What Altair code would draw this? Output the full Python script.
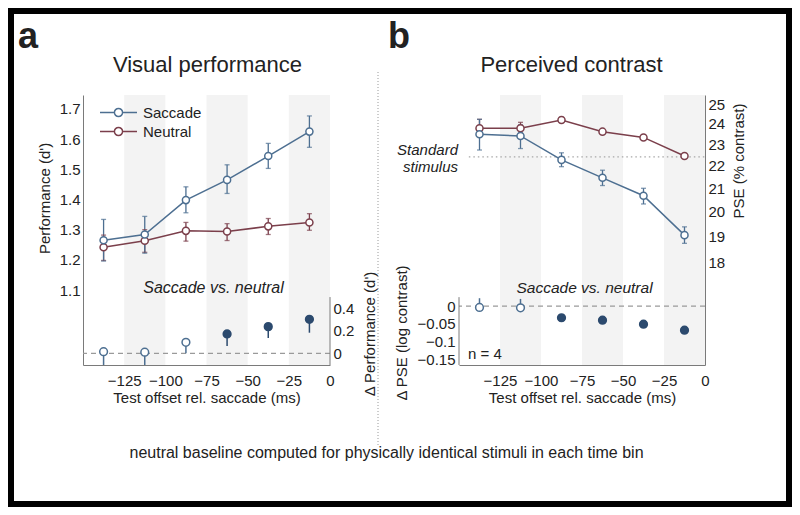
import altair as alt
import pandas as pd

# ---------------- data ----------------
offsets = [-137.5, -112.5, -87.5, -62.5, -37.5, -12.5]
band_start = [-125, -75, -25]
band_end = [-100, -50, 0]
series_names = ["Saccade", "Neutral"]
x_ticks = [-125, -100, -75, -50, -25, 0]

# panel a, upper: performance (d')
perf_saccade = [1.265, 1.284, 1.398, 1.465, 1.544, 1.625]
perf_saccade_lo = [1.196, 1.222, 1.356, 1.420, 1.503, 1.573]
perf_saccade_hi = [1.334, 1.344, 1.442, 1.515, 1.586, 1.677]
perf_neutral = [1.242, 1.263, 1.296, 1.294, 1.311, 1.324]
perf_neutral_lo = [1.198, 1.225, 1.262, 1.264, 1.284, 1.298]
perf_neutral_hi = [1.282, 1.300, 1.324, 1.320, 1.337, 1.353]

# panel a, lower: delta performance
delta_perf = [0.014, 0.010, 0.098, 0.172, 0.237, 0.302]
delta_perf_lo = [-0.104, -0.104, 0.000, 0.065, 0.136, 0.183]
signif_a = ["no", "no", "no", "yes", "yes", "yes"]

# panel b, upper: PSE (% contrast)
pse_saccade = [23.48, 23.40, 22.27, 21.46, 20.68, 19.06]
pse_saccade_lo = [22.73, 22.80, 21.96, 21.12, 20.33, 18.74]
pse_saccade_hi = [24.22, 23.95, 22.60, 21.80, 21.00, 19.39]
pse_neutral = [23.78, 23.78, 24.19, 23.61, 23.33, 22.45]
pse_neutral_lo = [23.55, 23.55, 24.06, 23.50, 23.22, 22.34]
pse_neutral_hi = [24.22, 24.07, 24.32, 23.72, 23.44, 22.56]
standard_pse = [22.41]

# panel b, lower: delta PSE (log contrast)
delta_pse = [-0.004, -0.005, -0.033, -0.040, -0.051, -0.068]
delta_pse_hi = [0.022, 0.020, -0.030, -0.037, -0.048, -0.065]
signif_b = ["no", "no", "yes", "yes", "yes", "yes"]

panel_letters = ["a", "b"]
panel_titles = ["Visual performance", "Perceived contrast"]
comparison_label = ["Saccade vs. neutral"]
standard_label = ["Standard", "stimulus"]
n_label = ["n = 4"]
footer = ["neutral baseline computed for physically identical stimuli in each time bin"]

# ---------------- style ----------------
FONT = "Liberation Sans"
BLUE = "#4d6f91"
RED = "#7b3f4b"
NAVY = "#2c4a6e"
AXIS = "#7a7a7a"
TXT = "#222222"
BAND = "#f3f3f3"
W, H = 247, 270

x_axis = alt.Axis(values=x_ticks, format="d", title="Test offset rel. saccade (ms)",
                  labelPadding=20, labelBaseline="alphabetic", labelFlush=False,
                  titleY=37, titleBaseline="alphabetic")


def X(field):
    return alt.X(field, scale=alt.Scale(domain=[-150, 0], nice=False, zero=False), axis=x_axis)


def series_frame(s, s_lo, s_hi, n, n_lo, n_hi):
    return pd.DataFrame({
        "offset": offsets * 2,
        "series": ["Neutral"] * 6 + ["Saccade"] * 6,
        "value": n + s,
        "lo": n_lo + s_lo,
        "hi": n_hi + s_hi,
    })


# legend glyph: line with an open circle in the middle (unit = 6 px)
SYMBOL = ("M-3.08,0L-0.68,0M0.68,0L3.08,0M0.68,0A0.68,0.68,0,1,1,-0.68,0"
          "A0.68,0.68,0,1,1,0.68,0Z")


def text_layer(values, x, y, size=15, align="center", weight="normal", style="normal", line_height=None):
    kw = dict(font=FONT, fontSize=size, align=align, baseline="alphabetic",
              fontWeight=weight, fontStyle=style, color=TXT)
    if line_height:
        kw["lineHeight"] = line_height
        return alt.Chart(pd.DataFrame({"k": [0]})).mark_text(**kw).encode(
            text=alt.value(values), x=alt.value(x), y=alt.value(y))
    return alt.Chart(pd.DataFrame({"t": values})).mark_text(**kw).encode(
        text="t:N", x=alt.value(x), y=alt.value(y))


def series_scale():
    return alt.Scale(domain=series_names, range=[BLUE, RED])


def upper_group(df, yfun, legend):
    color = alt.Color("series:N", scale=series_scale(), legend=legend)
    stroke = alt.Stroke("series:N", scale=series_scale(), legend=None)
    fill = alt.Fill("series:N", scale=series_scale(), legend=None)
    bands = alt.Chart(pd.DataFrame({"s": band_start, "e": band_end})).mark_rect(color=BAND).encode(
        x=X("s:Q"), x2="e:Q")
    line = alt.Chart(df).mark_line(strokeWidth=1.5).encode(x=X("offset:Q"), y=yfun("value:Q"), color=color)
    err = alt.Chart(df).mark_rule(strokeWidth=1.3).encode(x=X("offset:Q"), y=yfun("lo:Q"), y2="hi:Q",
                                                          stroke=stroke)
    cap_lo = alt.Chart(df).mark_tick(orient="horizontal", size=5, thickness=1.3).encode(
        x=X("offset:Q"), y=yfun("lo:Q"), fill=fill)
    cap_hi = alt.Chart(df).mark_tick(orient="horizontal", size=5, thickness=1.3).encode(
        x=X("offset:Q"), y=yfun("hi:Q"), fill=fill)
    pts = alt.Chart(df).mark_point(shape="circle", filled=True, fill="white", size=50,
                                   strokeWidth=1.5, opacity=1).encode(
        x=X("offset:Q"), y=yfun("value:Q"), stroke=stroke)
    return [bands, line, err, cap_lo, cap_hi, pts]


def lower_group(df, yfun, axis_x, axis_lo, axis_hi):
    sig_stroke = alt.Scale(domain=["no", "yes"], range=[BLUE, NAVY])
    sig_fill = alt.Scale(domain=["no", "yes"], range=["white", NAVY])
    zero = alt.Chart(pd.DataFrame({"v": [0]})).mark_rule(strokeDash=[5, 4], color="#9a9a9a", strokeWidth=1.2).encode(
        y=yfun("v:Q"))
    axline = alt.Chart(pd.DataFrame({"x": [axis_x], "lo": [axis_lo], "hi": [axis_hi]})).mark_rule(
        color=AXIS, strokeWidth=1).encode(x=X("x:Q"), y=yfun("lo:Q"), y2="hi:Q")
    err = alt.Chart(df).mark_rule(strokeWidth=1.5).encode(
        x=X("offset:Q"), y=yfun("a:Q"), y2="b:Q",
        stroke=alt.Stroke("sig:N", scale=sig_stroke, legend=None))
    pts = alt.Chart(df).mark_point(shape="circle", filled=True, size=60, strokeWidth=1.5, opacity=1).encode(
        x=X("offset:Q"), y=yfun("value:Q"),
        fill=alt.Fill("sig:N", scale=sig_fill, legend=None),
        stroke=alt.Stroke("sig:N", scale=sig_stroke, legend=None))
    return [zero, axline, err, pts]


# ---------------- panel a ----------------
axis_perf = alt.Axis(orient="left", values=[1.1, 1.2, 1.3, 1.4, 1.5, 1.6, 1.7], format=".1f",
                     title="Performance (d')", titleX=-39, titleY=103, titleAngle=270,
                     titleBaseline="middle", titleAlign="center", labelPadding=3)
axis_dperf = alt.Axis(orient="right", values=[0, 0.2, 0.4], format=".1~f", domain=False,
                      title="Δ Performance (d')", titleX=39, titleY=238.5, titleAngle=270,
                      titleBaseline="middle", titleAlign="center", labelPadding=3)


def yA(f):
    return alt.Y(f, scale=alt.Scale(domain=[0.8514, 1.7464], nice=False, zero=False), axis=axis_perf)


def yAl(f):
    return alt.Y(f, scale=alt.Scale(domain=[-0.104, 2.296], nice=False, zero=False), axis=axis_dperf)


legend_a = alt.Legend(orient="none", legendX=28, legendY=10, title=None, symbolType=SYMBOL,
                      symbolSize=144, symbolStrokeWidth=1.5, symbolFillColor="white",
                      labelFont=FONT, labelFontSize=15, labelColor=TXT, labelOffset=17,
                      rowPadding=3, padding=0)

dfA = series_frame(perf_saccade, perf_saccade_lo, perf_saccade_hi, perf_neutral, perf_neutral_lo, perf_neutral_hi)
dA = pd.DataFrame({"offset": offsets, "value": delta_perf, "a": delta_perf_lo, "b": delta_perf, "sig": signif_a})

upperA = alt.layer(*upper_group(dfA, yA, legend_a))
lowerA = alt.layer(*lower_group(dA, yAl, 0, -0.104, 0.5))

# outer frame: page 8..792 x 8..507 (keeps the whole page inside the 800x515 window)
frame = alt.Chart(pd.DataFrame({"k": [0]})).mark_rect(filled=False, stroke="black", strokeWidth=6).encode(
    x=alt.value(-72), x2=alt.value(706), y=alt.value(-84), y2=alt.value(409))
divider = alt.Chart(pd.DataFrame({"k": [0]})).mark_rule(strokeDash=[1, 2], color="#9a9a9a", strokeWidth=1).encode(
    x=alt.value(295), y=alt.value(-23), y2=alt.value(352))

annotA = [
    text_layer([panel_letters[0]], -65, -47, size=36, align="left", weight="bold"),
    text_layer([panel_titles[0]], 124.5, -23, size=22),
    text_layer(comparison_label, 130.5, 198, size=16, style="italic"),
    text_layer(footer, 303.5, 363, size=16),
    divider,
    frame,
]

panelA = alt.layer(upperA, lowerA, *annotA).resolve_scale(
    y="independent", stroke="independent", fill="independent").properties(width=W, height=H)

# ---------------- panel b ----------------
axis_pse = alt.Axis(orient="right", values=[18, 19, 20, 21, 22, 23, 24, 25], format="d",
                    title="PSE (% contrast)", titleX=33, titleY=65.5, titleAngle=270,
                    titleBaseline="middle", titleAlign="center", labelPadding=3)
axis_dpse = alt.Axis(orient="left", values=[0, -0.05, -0.1, -0.15], format=".2~f", domain=False,
                     title="Δ PSE (log contrast)", titleX=-58, titleY=237.5, titleAngle=270,
                     titleBaseline="middle", titleAlign="center", labelPadding=4)


def yB(f):
    return alt.Y(f, scale=alt.Scale(type="log", domain=[14.57, 25.47], nice=False), axis=axis_pse)


def yBl(f):
    return alt.Y(f, scale=alt.Scale(domain=[-0.166, 0.594], nice=False, zero=False), axis=axis_dpse)


dfB = series_frame(pse_saccade, pse_saccade_lo, pse_saccade_hi, pse_neutral, pse_neutral_lo, pse_neutral_hi)
dB = pd.DataFrame({"offset": offsets, "value": delta_pse, "a": delta_pse, "b": delta_pse_hi, "sig": signif_b})

std_line = alt.Chart(pd.DataFrame({"x1": [-144], "x2": [0], "v": standard_pse})).mark_rule(
    strokeDash=[1.5, 3], color="#a8a8a8", strokeWidth=1.2).encode(x=X("x1:Q"), x2="x2:Q", y=yB("v:Q"))

ug = upper_group(dfB, yB, None)
upperB = alt.layer(ug[0], std_line, *ug[1:])
lowerB = alt.layer(*lower_group(dB, yBl, -150, -0.166, 0.025))

annotB = [
    text_layer([panel_letters[1]], -71, -47, size=36, align="left", weight="bold"),
    text_layer([panel_titles[1]], 112.5, -23, size=22),
    text_layer(standard_label, -1, 60, size=15, align="right", style="italic", line_height=16.5),
    text_layer(comparison_label, 125.5, 198, size=15.5, style="italic"),
    text_layer(n_label, 9, 264, size=15, align="left"),
]

panelB = alt.layer(upperB, lowerB, *annotB).resolve_scale(
    y="independent", stroke="independent", fill="independent").properties(width=W - 1, height=H)

chart = alt.hconcat(panelA, panelB, spacing=129, bounds="flush").resolve_scale(
    color="independent", stroke="independent", fill="independent"
).resolve_legend(color="independent").properties(padding=0, background="white").configure_view(
    stroke=None
).configure_axis(
    grid=False, ticks=False, labelFont=FONT, titleFont=FONT, labelFontSize=15, titleFontSize=15,
    labelColor=TXT, titleColor=TXT, titleFontWeight="normal", domainColor=AXIS, domainWidth=1,
    labelFlush=False, labelOverlap=False
)

chart.save("out.html", embed_options={"renderer": "svg", "actions": False})
